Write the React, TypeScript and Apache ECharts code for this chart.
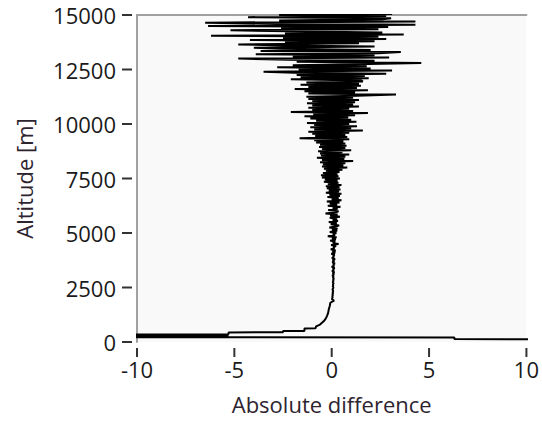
import React, { useEffect, useRef } from "react";
import * as echarts from "echarts";

// Axis ranges and tick values
const X_MIN = -10;
const X_MAX = 10;
const X_INTERVAL = 5;
const Y_MIN = 0;
const Y_MAX = 15000;
const Y_INTERVAL = 2500;
const xTicks = [-10, -5, 0, 5, 10];
const yTicks = [0, 2500, 5000, 7500, 10000, 12500, 15000];

// Near-ground part of the profile (altitude m, absolute difference)
const groundAltitudes = [0, 140, 210, 220, 240, 260, 280, 300, 320, 340, 360, 380, 440, 450, 500, 510, 620, 630, 720, 800, 880, 960, 1080, 1200, 1350, 1500, 1650, 1800, 1900, 1950];
const groundValues = [40, 6.3, 6.3, -11, -5.3, -11, -5.3, -11, -5.3, -11, -5.3, -5.3, -5.3, -2.5, -2.5, -1.4, -1.4, -0.83, -0.8, -0.6, -0.5, -0.4, -0.3, -0.24, -0.18, -0.15, -0.1, -0.07, 0.12, 0.02];

// Upper profile, sampled every 50 m; each band covers 1000 m starting at its key altitude
const ALT_STEP = 50;
const band2000 = [0.02, 0.05, 0.03, 0.06, 0.04, 0.07, 0.05, 0.08, 0.04, 0.06, 0.09, 0.05, 0.08, 0.06, 0.1, 0.05, 0.09, 0.07, 0.11, 0.06];
const band3000 = [0.1, 0.03, 0.12, 0.05, 0.14, 0.02, 0.11, 0.06, 0.15, 0.0, 0.12, 0.08, 0.16, 0.03, 0.13, 0.05, 0.17, 0.01, 0.12, 0.07];
const band4000 = [0.15, -0.02, 0.18, 0.04, 0.2, -0.05, 0.14, 0.08, 0.22, -0.03, 0.35, 0.05, 0.18, -0.08, 0.21, 0.02, 0.25, -0.2, 0.17, 0.06];
const band5000 = [0.24, -0.1, 0.28, 0.02, 0.3, -0.12, 0.22, 0.38, -0.05, 0.26, -0.15, 0.32, 0.05, 0.28, -0.1, 0.42, -0.08, 0.3, -0.32, 0.2];
const band6000 = [0.35, -0.18, 0.3, 0.05, 0.45, -0.2, 0.28, -0.1, 0.4, -0.25, 0.5, 0.0, 0.36, -0.22, 0.42, -0.12, 0.5, -0.3, 0.38, -0.15];
const band7000 = [0.45, -0.25, 0.4, -0.3, 0.5, -0.2, 0.35, -0.4, 0.3, -0.35, 0.42, -0.5, 0.35, -0.55, 0.3, -0.45, 0.4, -0.3, 0.55, -0.4];
const band8000 = [0.8, -0.5, 0.6, -0.45, 0.7, -0.6, 1.1, -0.5, 0.65, -0.76, 0.7, -0.55, 0.9, -0.6, 0.55, -0.7, 1.0, -0.5, 0.7, -0.65];
const band9000 = [0.76, -0.6, 0.7, -0.8, 0.6, -0.9, 0.9, -1.65, 0.8, -0.85, 0.7, -1.0, 0.9, -1.2, 1.6, -0.9, 1.0, -1.1, 1.3, -0.9];
const band10000 = [0.9, -1.27, 1.27, -0.8, 1.0, -1.1, 0.85, -1.4, 1.2, -0.95, 1.86, -2.1, 1.1, -1.0, 0.9, -1.2, 1.4, -1.0, 1.1, -1.27];
const band11000 = [1.2, -1.0, 1.4, -1.2, 1.1, -1.3, 1.3, 3.3, -1.2, 1.2, -1.4, 1.86, -1.9, 1.3, -1.2, 1.5, -1.6, 1.4, -1.3, 1.6];
const band12000 = [1.5, -2.1, 1.9, -1.6, 1.7, -1.8, 2.8, -1.9, -3.5, 3.1, -1.7, 2.0, -2.8, 1.8, -2.0, 1.9, 4.6, -1.8, 2.2, -2.2];
const band13000 = [-4.8, 2.95, -2.0, 2.2, -3.9, 2.4, 3.55, -3.65, 2.0, -2.6, -4.0, 2.2, -2.4, -4.8, 1.4, -2.4, 2.2, -4.2, 2.8, -2.5];
const band14000 = [2.4, -6.2, 3.7, -2.4, 2.6, -2.2, -5.2, 2.4, -2.6, 2.9, -6.35, 4.3, -2.8, -6.5, 4.3, -2.7, 2.6, 3.05, -4.3, 2.8];
const topAltitudes = [15000, 15050];
const topValues = [-2.7, 3.1];

const bands: [number, number[]][] = [
  [2000, band2000],
  [3000, band3000],
  [4000, band4000],
  [5000, band5000],
  [6000, band6000],
  [7000, band7000],
  [8000, band8000],
  [9000, band9000],
  [10000, band10000],
  [11000, band11000],
  [12000, band12000],
  [13000, band13000],
  [14000, band14000],
];

function buildData(): [number, number][] {
  const d: [number, number][] = [];
  groundAltitudes.forEach((a, i) => d.push([groundValues[i], a]));
  bands.forEach(([start, vals]) => {
    vals.forEach((v, i) => d.push([v, start + i * ALT_STEP]));
  });
  topAltitudes.forEach((a, i) => d.push([topValues[i], a]));
  return d;
}

const FONT = "Open Sans";
const LABEL_COLOR = "#1a1a1a";
const NAME_COLOR = "#2e2430";
const TICK_COLOR = "#333333";

export default function App() {
  const ref = useRef<HTMLDivElement>(null);
  useEffect(() => {
    const chart = echarts.init(ref.current!, null, { renderer: "svg" });
    const noLine = { show: false, onZero: false };
    const borderLine = { show: true, onZero: false, lineStyle: { color: "#a0a0a0", width: 2 } };
    chart.setOption({
      animation: false,
      grid: {
        left: 137,
        right: 10,
        top: 15,
        bottom: 81,
        show: true,
        backgroundColor: "#f9f9f9",
        borderWidth: 0,
      },
      xAxis: [
        {
          type: "value",
          min: X_MIN,
          max: X_MAX,
          interval: X_INTERVAL,
          position: "top",
          axisLine: borderLine,
          axisTick: { show: false },
          axisLabel: { show: false },
          splitLine: { show: false },
        },
        {
          type: "value",
          min: X_MIN,
          max: X_MAX,
          interval: X_INTERVAL,
          position: "bottom",
          offset: 6,
          axisLine: noLine,
          axisTick: { show: false },
          axisLabel: { fontSize: 22, fontFamily: FONT, color: LABEL_COLOR, margin: 10, formatter: (v: number) => String(v) },
          splitLine: { show: false },
          name: "Absolute difference",
          nameLocation: "middle",
          nameGap: 45,
          nameTextStyle: { fontSize: 22, fontFamily: FONT, color: NAME_COLOR },
        },
      ],
      yAxis: [
        {
          type: "value",
          min: Y_MIN,
          max: Y_MAX,
          interval: Y_INTERVAL,
          position: "left",
          offset: 0,
          axisLine: borderLine,
          axisTick: { show: false },
          axisLabel: { show: false },
          splitLine: { show: false },
        },
        {
          type: "value",
          min: Y_MIN,
          max: Y_MAX,
          interval: Y_INTERVAL,
          position: "left",
          offset: 4,
          axisLine: noLine,
          axisTick: { show: false },
          axisLabel: { fontSize: 22, fontFamily: FONT, color: LABEL_COLOR, margin: 17, formatter: (v: number) => String(v) },
          splitLine: { show: false },
          name: "Altitude [m]",
          nameLocation: "middle",
          nameGap: 98,
          nameRotate: 90,
          nameTextStyle: { fontSize: 22, fontFamily: FONT, color: NAME_COLOR },
        },
      ],
      series: [
        {
          type: "line",
          xAxisIndex: 1,
          yAxisIndex: 1,
          data: buildData(),
          showSymbol: false,
          clip: true,
          lineStyle: { color: "#000", width: 2 },
        },
      ],
    });

    // Tick marks placed through the chart's own scales
    const ticks: any[] = [];
    const left = chart.convertToPixel({ xAxisIndex: 1 }, X_MIN) as number;
    const bottom = chart.convertToPixel({ yAxisIndex: 1 }, Y_MIN) as number;
    yTicks.forEach((v) => {
      const py = chart.convertToPixel({ yAxisIndex: 1 }, v) as number;
      if (typeof py !== "number" || typeof left !== "number") return;
      ticks.push({
        type: "line",
        z: 100,
        silent: true,
        shape: { x1: left - 15, y1: py, x2: left - 5, y2: py },
        style: { stroke: TICK_COLOR, lineWidth: 2 },
      });
    });
    xTicks.forEach((v) => {
      const px = chart.convertToPixel({ xAxisIndex: 1 }, v) as number;
      if (typeof px !== "number" || typeof bottom !== "number") return;
      ticks.push({
        type: "line",
        z: 100,
        silent: true,
        shape: { x1: px, y1: bottom + 6, x2: px, y2: bottom + 15 },
        style: { stroke: TICK_COLOR, lineWidth: 2 },
      });
    });
    chart.setOption({ graphic: { elements: ticks } });
    return () => chart.dispose();
  }, []);
  return <div ref={ref} style={{ position: "fixed", left: 0, top: 0, width: 542, height: 423, background: "#fff" }} />;
}
